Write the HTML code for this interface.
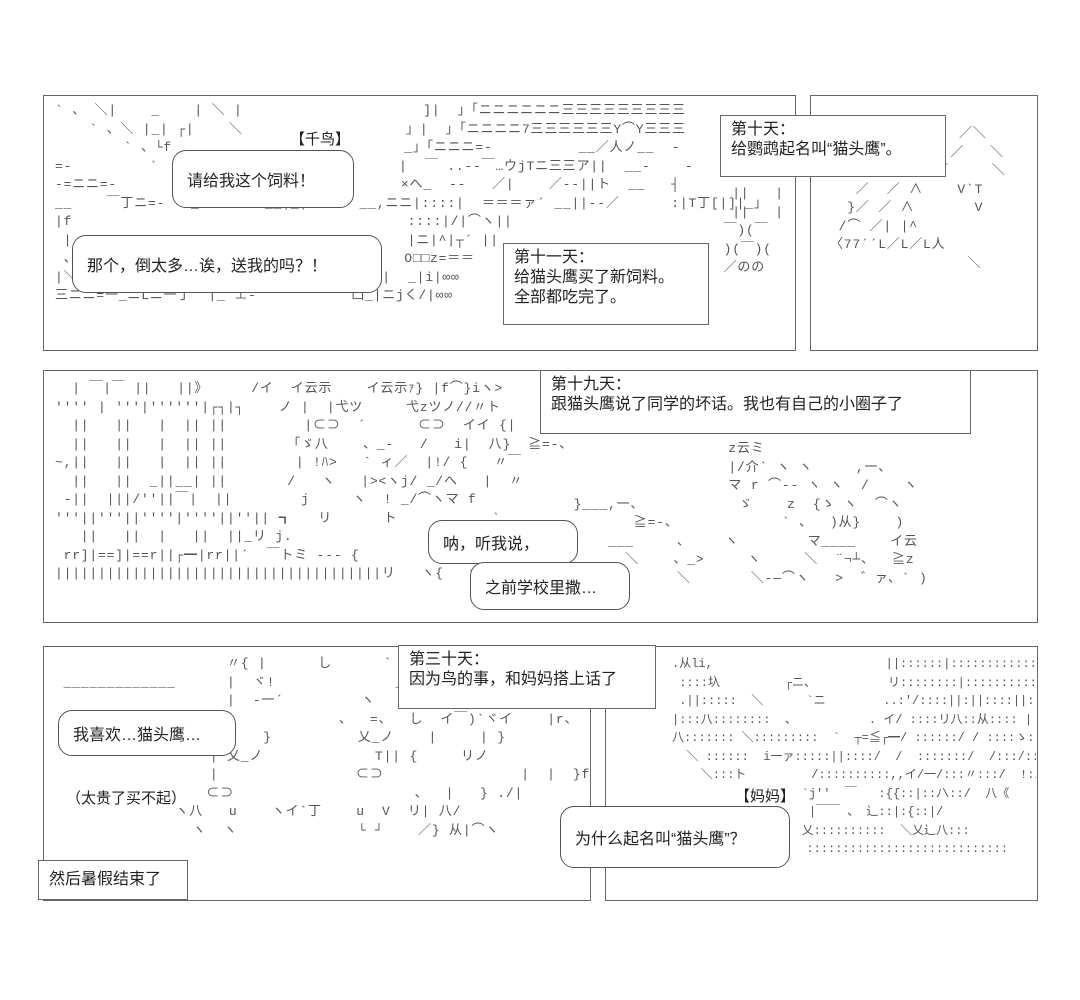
<!DOCTYPE html>
<html><head><meta charset="utf-8">
<style>
body{margin:0;width:1080px;height:1000px;background:#fff;position:relative;overflow:hidden;font-family:"Liberation Sans","Noto Sans CJK SC",sans-serif;color:#333}
.p{position:absolute;border:1.5px solid #666;box-sizing:border-box}
.b{position:absolute;background:#fff;border:1.5px solid #666;box-sizing:border-box;font-size:16px;line-height:20px;padding:4px 10px;color:#222}
.bu{position:absolute;background:#fff;border:1.5px solid #555;border-radius:14px;box-sizing:border-box;font-size:16px;color:#222;display:flex;align-items:center;padding-left:14px}
.a{position:absolute;font-family:"Liberation Mono","Noto Sans CJK SC",monospace;font-size:13px;line-height:18.5px;color:#555;white-space:pre;margin:0;letter-spacing:0.8px}
.clip{position:absolute;overflow:hidden}
</style></head><body>
<div class="p" style="left:43px;top:95px;width:753px;height:256px"></div>
<div class="p" style="left:810px;top:95px;width:228px;height:256px"></div>
<div class="p" style="left:43px;top:370px;width:995px;height:253px"></div>
<div class="p" style="left:43px;top:646px;width:548px;height:255px"></div>
<div class="p" style="left:605px;top:646px;width:433px;height:255px"></div>

<pre class="a" style="left:55px;top:102px">` 、 ＼|    _    | ＼ |                     ]|  」「ニニニニニニ三三三三三三三三三
    ` 、＼ |_| ┌|    ＼                   」|  」「ニニニニ7三三三三三三Y⌒Y三三三
        ` 、└f                           _」「ニニニ=-          __／人ノ__  -
=-         `                            |  ￣ ..--￣…ウjTニ三三ア||  __-    -
-=ニニ=-                                 ×へ_  -‐   ／|    ／‐-||ト  __   ┤
__    ￣丁ニ=-   _    ` 、__|_|      __,ニニ|::::|  ＝＝＝ァ´ __||-‐／      :|T丁[|]|_」
|f                                       ::::|/|⌒ヽ||
 |                                       |ニ|^|┬´ ||
 、                                      O□□z=＝＝
|＼」ニ|ト￣`弌==zz==┬:┬￣丁_ -  ￣i||_|ニ|  _|i|∞∞
三ニニ=一_ニLニ一丁  |_ ⊥-¨          凵_|ニjく/|∞∞</pre>
<pre class="a" style="left:715px;top:185px">  ||   |
  ||   |
 ￣)(￣
 )(￣)(
 ／のの</pre>
<pre class="a" style="left:830px;top:125px">               ／＼
              ／   ＼
     ／＼    ／     ＼
   ／  ／ ∧    V`T
  }／ ／ ∧       V
 /⌒ ／| |^
〈77´´L／L／L人
                ＼</pre>

<div class="bu" style="left:172px;top:150px;width:182px;height:58px">请给我这个饲料！</div>
<div class="bu" style="left:72px;top:235px;width:310px;height:58px">那个，倒太多…诶，送我的吗？！</div>
<div style="position:absolute;left:290px;top:128px;font-size:15px;color:#222;background:#fff">【千鸟】</div>
<div class="b" style="left:720px;top:115px;width:226px;height:62px">第十天：<br>给鹦鹉起名叫“猫头鹰”。</div>
<div class="b" style="left:503px;top:243px;width:206px;height:82px">第十一天：<br>给猫头鹰买了新饲料。<br>全部都吃完了。</div>

<div class="clip" style="left:45px;top:372px;width:991px;height:249px">
<pre class="a" style="left:10px;top:8px">  | ￣|￣ ||   ||》     /イ  イ云示    イ云示ｧ} |f⌒}iヽ>
'''' | '''|''''''|┌┐|┐    ノ |  |弋ツ     弋zツノ//〃ト
  ||   ||   |  || ||         |⊂⊃  ´      ⊂⊃  イイ {|
  ||   ||   |  || ||       「ゞ八    、_-   /   i|  八}  ≧=-、
~,||   ||   |  || ||        | !ﾊ>   ` ィ／  |!/ {   〃￣
  ||   ||  _||__| ||       /   ヽ   |><ヽj/ _/ヘ   |  〃
 -||  |||/''||￣|  ||        j     ヽ  ! _/⌒ヽマ f
'''||'''||''''|''''||''|| ┓   リ      ト           `
   ||   ||  |   ||  ||_リ j.
 rr]|==]|==r||┌━|rr||´  ￣トミ --- {
||||||||||||||||||||||||||||||||||||||リ   ヽ{   > r<ヽ</pre>
<pre class="a" style="left:520px;top:68px">                   z云ミ
                   |/介` ヽ ヽ     ,一、
                   マ r ⌒-- ヽ ヽ  /    ヽ
 }___,一、           ゞ    z  {ゝ ヽ  ⌒ヽ
-       ≧=-、            ` 、  )从}    )
     ___     、    ヽ        マ____    イ云
       ＼    、_>     ヽ     ＼  ¨¬┴、  ≧z
  }          ＼       ＼-―⌒ヽ   >  ゛ァ、` )</pre>
</div>
<div class="b" style="left:540px;top:370px;width:431px;height:64px">第十九天：<br>跟猫头鹰说了同学的坏话。我也有自己的小圈子了</div>
<div class="bu" style="left:428px;top:520px;width:150px;height:44px">呐，听我说，</div>
<div class="bu" style="left:470px;top:562px;width:160px;height:48px">之前学校里撒…</div>

<pre class="a" style="left:55px;top:655px">                    〃{ |      し      `
 _____________      |  ヾ!              ___
                    |  -一´         ヽ       |      {
                                 、  =、  し  イ￣)`ヾイ    |r、
              |   ヽイ   }          乂_ノ    |     | }
                  | 乂_ノ             T|| {     リノ
                  |                ⊂⊃                |  |  }f
            }ヘ   ⊂⊃                     、  |   } ./|
              ヽ八   u    ヽイ`丁    u  V  リ| 八/
                ヽ  ヽ              └ ┘    ／} 从|⌒ヽ</pre>
<div class="clip" style="left:607px;top:648px;width:429px;height:251px">
<pre class="a" style="left:65px;top:7px;font-size:12px;letter-spacing:0">.从li,                        ||::::::|:::::::::::::,
 ::::圦         ┌ニ、          リ::::::::|:::::::::::::VI
 .||:::::  ＼      `ニ        ..:'/::::||:||::::||::::||
|:::八::::::::  、          . イ/ ::::リ八::从:::: |
八::::::: ＼:::::::::  `  ┬=≦┌━/ ::::::/ / ::::ゝ::::::::|
  ＼ ::::::  i一ァ:::::||::::/  /  :::::::/  /:::/:::/|::リ
    ＼:::ト         /::::::::::,,イ/一/:::〃:::/  !:/
                  `j''  ￣   :{{::|::ﾉ\::/  八《
                   |￣￣ 、 辶::|:{::|/
                  乂::::::::::  ＼乂辶八:::
            ／||'  ::::::::::::::::::::::::::::</pre>
</div>
<div style="position:absolute;left:735px;top:785px;font-size:15px;color:#222;background:#fff">【妈妈】</div>
<div class="b" style="left:398px;top:645px;width:258px;height:64px">第三十天：<br>因为鸟的事，和妈妈搭上话了</div>
<div class="bu" style="left:58px;top:710px;width:178px;height:46px">我喜欢…猫头鹰…</div>
<div style="position:absolute;left:66px;top:787px;font-size:15px;color:#222;background:#fff">（太贵了买不起）</div>
<div class="bu" style="left:560px;top:806px;width:230px;height:62px">为什么起名叫“猫头鹰”？</div>
<div class="b" style="left:38px;top:860px;width:150px;height:40px;padding-top:9px">然后暑假结束了</div>
</body></html>
